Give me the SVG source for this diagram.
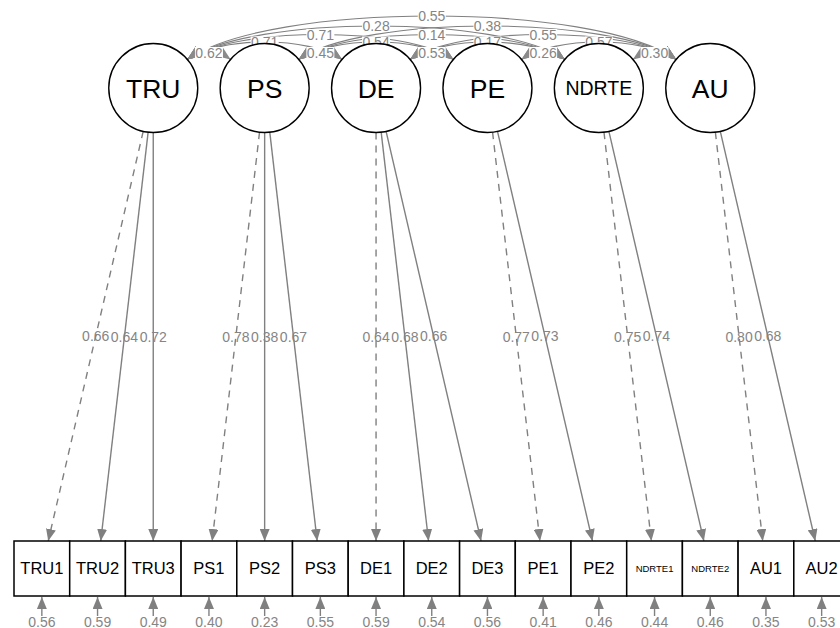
<svg xmlns="http://www.w3.org/2000/svg" width="840" height="628" viewBox="0 0 840 628">
<defs>
<marker id="ah" viewBox="0 0 12 10" refX="12" refY="5" markerWidth="12" markerHeight="10" markerUnits="userSpaceOnUse" orient="auto-start-reverse"><path d="M0,0L12,5L0,10z" fill="#808080"/></marker>
<marker id="ahc" viewBox="0 0 15 12" refX="15" refY="6" markerWidth="15" markerHeight="12" markerUnits="userSpaceOnUse" orient="auto-start-reverse"><path d="M0,0L15,6L0,12z" fill="#8a8a8a"/></marker>
<style>
.lv circle{fill:#fff;stroke:#000;stroke-width:1.4}
.lv text{font-family:"Liberation Sans",Arial,sans-serif;font-size:26.5px;fill:#000;text-anchor:middle}
.mv rect{fill:#fff;stroke:#000;stroke-width:1.5}
.mv text{font-family:"Liberation Sans",Arial,sans-serif;font-size:16.5px;fill:#000;text-anchor:middle}
.load{stroke:#808080;stroke-width:1.4;fill:none;marker-end:url(#ah)}
.dash{stroke-dasharray:7 6}
.cov{stroke:#808080;stroke-width:1.1;fill:none;marker-start:url(#ahc);marker-end:url(#ahc)}
.res{stroke:#808080;stroke-width:1.4;fill:none;marker-end:url(#ah)}
.lab{font-family:"Liberation Sans",Arial,sans-serif;font-size:14px;fill:#858585;text-anchor:middle}
.bg{fill:#fff}
</style>
</defs>
<rect width="840" height="628" fill="#fff"/>
<g id="connectors">
<g id="loadings">
<line class="load dash" x1="143.20" y1="131.35" x2="48.23" y2="541"/>
<line class="load" x1="148.13" y1="132.20" x2="100.74" y2="541"/>
<line class="load" x1="153.25" y1="132.5" x2="153.25" y2="541"/>
<line class="load dash" x1="259.53" y1="132.20" x2="212.14" y2="541"/>
<line class="load" x1="264.65" y1="132.5" x2="264.65" y2="541"/>
<line class="load" x1="269.77" y1="132.20" x2="317.16" y2="541"/>
<line class="load dash" x1="376.05" y1="132.5" x2="376.05" y2="541"/>
<line class="load" x1="381.17" y1="132.20" x2="428.56" y2="541"/>
<line class="load" x1="386.10" y1="131.35" x2="481.07" y2="541"/>
<line class="load dash" x1="492.57" y1="132.20" x2="539.96" y2="541"/>
<line class="load" x1="497.50" y1="131.35" x2="592.47" y2="541"/>
<line class="load dash" x1="603.97" y1="132.20" x2="651.36" y2="541"/>
<line class="load" x1="608.90" y1="131.35" x2="703.87" y2="541"/>
<line class="load dash" x1="715.37" y1="132.20" x2="762.76" y2="541"/>
<line class="load" x1="720.30" y1="131.35" x2="815.27" y2="541"/>
</g>
<g id="loading-labels" class="lab">
<text x="95.72" y="341.2">0.66</text>
<text x="124.43" y="341.6">0.64</text>
<text x="153.25" y="341.75">0.72</text>
<text x="235.84" y="341.6">0.78</text>
<text x="264.65" y="341.75">0.38</text>
<text x="293.47" y="341.6">0.67</text>
<text x="376.05" y="341.75">0.64</text>
<text x="404.87" y="341.6">0.68</text>
<text x="433.59" y="341.2">0.66</text>
<text x="516.27" y="341.6">0.77</text>
<text x="544.99" y="341.2">0.73</text>
<text x="627.67" y="341.6">0.75</text>
<text x="656.39" y="341.2">0.74</text>
<text x="739.07" y="341.6">0.80</text>
<text x="767.79" y="341.2">0.68</text>
</g>
<g id="covariances">
<path class="cov" d="M187.25,59.5C200.55,50.17 217.35,50.17 230.65,59.5"/>
<path class="cov" d="M298.65,59.5C311.95,50.17 328.75,50.17 342.05,59.5"/>
<path class="cov" d="M410.05,59.5C423.35,50.17 440.15,50.17 453.45,59.5"/>
<path class="cov" d="M521.45,59.5C534.75,50.17 551.55,50.17 564.85,59.5"/>
<path class="cov" d="M632.85,59.5C646.15,50.17 662.95,50.17 676.25,59.5"/>
<path class="cov" d="M187.25,59.5C220.55,36.17 308.75,36.17 342.05,59.5"/>
<path class="cov" d="M298.65,59.5C331.95,36.17 420.15,36.17 453.45,59.5"/>
<path class="cov" d="M410.05,59.5C443.35,36.17 531.55,36.17 564.85,59.5"/>
<path class="cov" d="M521.45,59.5C554.75,36.17 642.95,36.17 676.25,59.5"/>
<path class="cov" d="M187.25,59.5C234.85,26.17 405.85,26.17 453.45,59.5"/>
<path class="cov" d="M298.65,59.5C346.25,26.17 517.25,26.17 564.85,59.5"/>
<path class="cov" d="M410.05,59.5C457.65,26.17 628.65,26.17 676.25,59.5"/>
<path class="cov" d="M187.25,59.5C251.05,14.83 501.05,14.83 564.85,59.5"/>
<path class="cov" d="M298.65,59.5C362.45,14.83 612.45,14.83 676.25,59.5"/>
<path class="cov" d="M187.25,59.5C270.15,1.5 593.35,1.5 676.25,59.5"/>
</g>
<g id="covariance-labels" class="lab">
<rect class="bg" x="194.95" y="47" width="28" height="11"/><text x="208.95" y="57.5">0.62</text>
<rect class="bg" x="306.35" y="47" width="28" height="11"/><text x="320.35" y="57.5">0.45</text>
<rect class="bg" x="417.75" y="47" width="28" height="11"/><text x="431.75" y="57.5">0.53</text>
<rect class="bg" x="529.15" y="47" width="28" height="11"/><text x="543.15" y="57.5">0.26</text>
<rect class="bg" x="640.55" y="47" width="28" height="11"/><text x="654.55" y="57.5">0.30</text>
<rect class="bg" x="250.65" y="36.5" width="28" height="11"/><text x="264.65" y="47">0.71</text>
<rect class="bg" x="362.05" y="36.5" width="28" height="11"/><text x="376.05" y="47">0.54</text>
<rect class="bg" x="473.45" y="36.5" width="28" height="11"/><text x="487.45" y="47">0.17</text>
<rect class="bg" x="584.85" y="36.5" width="28" height="11"/><text x="598.85" y="47">0.57</text>
<rect class="bg" x="306.35" y="29" width="28" height="11"/><text x="320.35" y="39.5">0.71</text>
<rect class="bg" x="417.75" y="29" width="28" height="11"/><text x="431.75" y="39.5">0.14</text>
<rect class="bg" x="529.15" y="29" width="28" height="11"/><text x="543.15" y="39.5">0.55</text>
<rect class="bg" x="362.05" y="20.5" width="28" height="11"/><text x="376.05" y="31">0.28</text>
<rect class="bg" x="473.45" y="20.5" width="28" height="11"/><text x="487.45" y="31">0.38</text>
<rect class="bg" x="417.75" y="10.5" width="28" height="11"/><text x="431.75" y="21">0.55</text>
</g>
<g id="residuals">
<line class="res" x1="41.85" y1="616" x2="41.85" y2="597"/>
<line class="res" x1="97.55" y1="616" x2="97.55" y2="597"/>
<line class="res" x1="153.25" y1="616" x2="153.25" y2="597"/>
<line class="res" x1="208.95" y1="616" x2="208.95" y2="597"/>
<line class="res" x1="264.65" y1="616" x2="264.65" y2="597"/>
<line class="res" x1="320.35" y1="616" x2="320.35" y2="597"/>
<line class="res" x1="376.05" y1="616" x2="376.05" y2="597"/>
<line class="res" x1="431.75" y1="616" x2="431.75" y2="597"/>
<line class="res" x1="487.45" y1="616" x2="487.45" y2="597"/>
<line class="res" x1="543.15" y1="616" x2="543.15" y2="597"/>
<line class="res" x1="598.85" y1="616" x2="598.85" y2="597"/>
<line class="res" x1="654.55" y1="616" x2="654.55" y2="597"/>
<line class="res" x1="710.25" y1="616" x2="710.25" y2="597"/>
<line class="res" x1="765.95" y1="616" x2="765.95" y2="597"/>
<line class="res" x1="821.65" y1="616" x2="821.65" y2="597"/>
</g>
<g id="residual-labels" class="lab">
<text x="41.85" y="626.5">0.56</text>
<text x="97.55" y="626.5">0.59</text>
<text x="153.25" y="626.5">0.49</text>
<text x="208.95" y="626.5">0.40</text>
<text x="264.65" y="626.5">0.23</text>
<text x="320.35" y="626.5">0.55</text>
<text x="376.05" y="626.5">0.59</text>
<text x="431.75" y="626.5">0.54</text>
<text x="487.45" y="626.5">0.56</text>
<text x="543.15" y="626.5">0.41</text>
<text x="598.85" y="626.5">0.46</text>
<text x="654.55" y="626.5">0.44</text>
<text x="710.25" y="626.5">0.46</text>
<text x="765.95" y="626.5">0.35</text>
<text x="821.65" y="626.5">0.53</text>
</g>
</g>
<g id="TRU" class="lv"><circle cx="153.25" cy="88" r="44.5"/><text x="153.25" y="97.5">TRU</text></g>
<g id="PS" class="lv"><circle cx="264.65" cy="88" r="44.5"/><text x="264.65" y="97.5">PS</text></g>
<g id="DE" class="lv"><circle cx="376.05" cy="88" r="44.5"/><text x="376.05" y="97.5">DE</text></g>
<g id="PE" class="lv"><circle cx="487.45" cy="88" r="44.5"/><text x="487.45" y="97.5">PE</text></g>
<g id="NDRTE" class="lv"><circle cx="598.85" cy="88" r="44.5"/><text x="598.85" y="95" style="font-size:19.5px">NDRTE</text></g>
<g id="AU" class="lv"><circle cx="710.25" cy="88" r="44.5"/><text x="710.25" y="97.5">AU</text></g>
<g id="TRU1" class="mv"><rect x="14" y="541" width="55.7" height="55"/><text x="41.85" y="574.4">TRU1</text></g>
<g id="TRU2" class="mv"><rect x="69.7" y="541" width="55.7" height="55"/><text x="97.55" y="574.4">TRU2</text></g>
<g id="TRU3" class="mv"><rect x="125.4" y="541" width="55.7" height="55"/><text x="153.25" y="574.4">TRU3</text></g>
<g id="PS1" class="mv"><rect x="181.1" y="541" width="55.7" height="55"/><text x="208.95" y="574.4">PS1</text></g>
<g id="PS2" class="mv"><rect x="236.8" y="541" width="55.7" height="55"/><text x="264.65" y="574.4">PS2</text></g>
<g id="PS3" class="mv"><rect x="292.5" y="541" width="55.7" height="55"/><text x="320.35" y="574.4">PS3</text></g>
<g id="DE1" class="mv"><rect x="348.2" y="541" width="55.7" height="55"/><text x="376.05" y="574.4">DE1</text></g>
<g id="DE2" class="mv"><rect x="403.9" y="541" width="55.7" height="55"/><text x="431.75" y="574.4">DE2</text></g>
<g id="DE3" class="mv"><rect x="459.6" y="541" width="55.7" height="55"/><text x="487.45" y="574.4">DE3</text></g>
<g id="PE1" class="mv"><rect x="515.3" y="541" width="55.7" height="55"/><text x="543.15" y="574.4">PE1</text></g>
<g id="PE2" class="mv"><rect x="571" y="541" width="55.7" height="55"/><text x="598.85" y="574.4">PE2</text></g>
<g id="NDRTE1" class="mv"><rect x="626.7" y="541" width="55.7" height="55"/><text x="654.55" y="571.9" style="font-size:9.5px">NDRTE1</text></g>
<g id="NDRTE2" class="mv"><rect x="682.4" y="541" width="55.7" height="55"/><text x="710.25" y="571.9" style="font-size:9.5px">NDRTE2</text></g>
<g id="AU1" class="mv"><rect x="738.1" y="541" width="55.7" height="55"/><text x="765.95" y="574.4">AU1</text></g>
<g id="AU2" class="mv"><rect x="793.8" y="541" width="55.7" height="55"/><text x="821.65" y="574.4">AU2</text></g>
</svg>
